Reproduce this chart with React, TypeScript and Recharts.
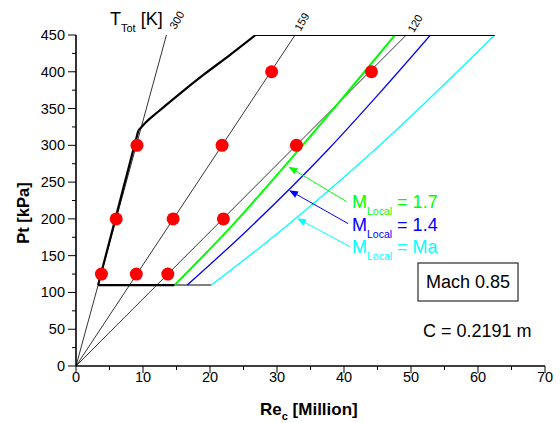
import React from "react";
import {
  ComposedChart,
  Line,
  Scatter,
  XAxis,
  YAxis,
  ReferenceLine,
} from "recharts";

// Total temperature lines (through origin)
const temp300 = [{ x: 0, y: 0 }, { x: 13.5, y: 450 }];
const temp159 = [{ x: 0, y: 0 }, { x: 32.7, y: 450 }];
const temp120 = [{ x: 0, y: 0 }, { x: 49.3, y: 450 }];

// Operating envelope (thick black), in pieces
const envelopeBottom = [{ x: 3.3, y: 110 }, { x: 14.7, y: 110 }];
const envelopeLeft = [{ x: 3.3, y: 110 }, { x: 9.3, y: 320 }];
const envelopeCurve = [
  { x: 9.3, y: 320 },
  { x: 10.3, y: 330 },
  { x: 12.3, y: 346 },
  { x: 15.2, y: 368 },
  { x: 19.2, y: 397 },
  { x: 23.0, y: 423 },
  { x: 26.8, y: 450 },
];
const envelopeTop = [{ x: 26.8, y: 450 }, { x: 62.5, y: 450 }];
const envelopeBase = [{ x: 14.7, y: 110 }, { x: 20.2, y: 110 }];

// Local Mach limits
const mLocal17 = [
  { x: 14.7, y: 110 },
  { x: 22.7, y: 185 },
  { x: 32.4, y: 285 },
  { x: 47.6, y: 450 },
];
const mLocal14 = [
  { x: 16.6, y: 110 },
  { x: 25.6, y: 185 },
  { x: 37.6, y: 294 },
  { x: 45.3, y: 371 },
  { x: 52.9, y: 450 },
];
const mLocalMa = [
  { x: 20.2, y: 110 },
  { x: 30.7, y: 185 },
  { x: 44.6, y: 294 },
  { x: 62.5, y: 450 },
];

// Test points
const testPoints = [
  { x: 3.8, y: 125 },
  { x: 9.0, y: 125 },
  { x: 13.7, y: 125 },
  { x: 6.0, y: 200 },
  { x: 14.5, y: 200 },
  { x: 22.0, y: 200 },
  { x: 9.1, y: 300 },
  { x: 21.8, y: 300 },
  { x: 32.9, y: 300 },
  { x: 29.2, y: 400 },
  { x: 44.1, y: 400 },
];

// Annotation arrows: [from, to]
const arrows = [
  { color: "#00ff00", from: { x: 40.4, y: 223.4 }, to: { x: 31.7, y: 271 } },
  { color: "#0000ff", from: { x: 40.6, y: 193.7 }, to: { x: 31.8, y: 239 } },
  { color: "#00ffff", from: { x: 40.9, y: 162.2 }, to: { x: 33.0, y: 200.8 } },
];

const xTicks = [0, 5, 10, 15, 20, 25, 30, 35, 40, 45, 50, 55, 60, 65, 70];
const yTicks = [
  0, 25, 50, 75, 100, 125, 150, 175, 200, 225, 250, 275, 300, 325, 350, 375,
  400, 425, 450,
];

const FONT = "'Liberation Sans', Arial, sans-serif";

function YTick(p: any) {
  const v = p.payload.value;
  const major = v % 50 === 0;
  return (
    <g>
      <line x1={p.x - (major ? 8 : 4)} x2={p.x} y1={p.y} y2={p.y} stroke="#000" strokeWidth={1} />
      {major && (
        <text x={p.x - 11} y={p.y} dy={5} textAnchor="end" fontSize={14.5} fontFamily={FONT} fill="#000">
          {v}
        </text>
      )}
    </g>
  );
}

function XTick(p: any) {
  const v = p.payload.value;
  const major = v % 10 === 0;
  return (
    <g>
      <line x1={p.x} x2={p.x} y1={p.y} y2={p.y + (major ? 7 : 4)} stroke="#000" strokeWidth={1} />
      {major && (
        <text x={p.x} y={p.y + 16} textAnchor="middle" fontSize={14.5} fontFamily={FONT} fill="#000">
          {v}
        </text>
      )}
    </g>
  );
}

function arrowShape(color: string) {
  return (props: any) => {
    const { x1, y1, x2, y2 } = props;
    const ang = Math.atan2(y2 - y1, x2 - x1);
    const len = 9;
    const half = 3.5;
    const bx = x2 - len * Math.cos(ang);
    const by = y2 - len * Math.sin(ang);
    const px = -Math.sin(ang) * half;
    const py = Math.cos(ang) * half;
    return (
      <g>
        <line x1={x1} y1={y1} x2={bx} y2={by} stroke={color} strokeWidth={1} />
        <polygon
          points={`${x2},${y2} ${bx + px},${by + py} ${bx - px},${by - py}`}
          fill={color}
        />
      </g>
    );
  };
}

function LocalLabel({ x, y, color, value }: { x: number; y: number; color: string; value: string }) {
  return (
    <text x={x} y={y} fontSize={18} fontFamily={FONT} fill={color}>
      <tspan>M</tspan>
      <tspan fontSize={10.5} dy={7}>Local</tspan>
      <tspan dy={-7}>{" = " + value}</tspan>
    </text>
  );
}

const thin = { stroke: "#000", strokeWidth: 0.8 };

export default function App() {
  return (
    <div style={{ position: "absolute", left: 0, top: 0, width: 560, height: 423, background: "#fff" }}>
      <ComposedChart
        width={560}
        height={423}
        margin={{ top: 35, right: 15, bottom: 17, left: 16 }}
      >
        <XAxis
          type="number"
          dataKey="x"
          domain={[0, 70]}
          ticks={xTicks}
          interval={0}
          height={40}
          tickSize={0}
          tickMargin={0}
          tickLine={false}
          tick={<XTick />}
          axisLine={{ stroke: "#000", strokeWidth: 1.6 }}
          allowDataOverflow
        />
        <YAxis
          type="number"
          dataKey="y"
          domain={[0, 450]}
          ticks={yTicks}
          interval={0}
          width={60}
          tickSize={0}
          tickMargin={0}
          tickLine={false}
          tick={<YTick />}
          axisLine={{ stroke: "#000", strokeWidth: 1.6 }}
          allowDataOverflow
        />
        <Line data={temp300} dataKey="y" {...thin} dot={false} isAnimationActive={false} />
        <Line data={temp159} dataKey="y" {...thin} dot={false} isAnimationActive={false} />
        <Line data={temp120} dataKey="y" {...thin} dot={false} isAnimationActive={false} />
        <Line data={envelopeBase} dataKey="y" stroke="#808080" strokeWidth={2} dot={false} isAnimationActive={false} />
        <Line data={mLocalMa} type="monotone" dataKey="y" stroke="#00ffff" strokeWidth={1.3} dot={false} isAnimationActive={false} />
        <Line data={mLocal14} type="monotone" dataKey="y" stroke="#0000ff" strokeWidth={1.3} dot={false} isAnimationActive={false} />
        <Line data={mLocal17} type="monotone" dataKey="y" stroke="#00ff00" strokeWidth={2} dot={false} isAnimationActive={false} />
        <Line data={envelopeBottom} dataKey="y" stroke="#000" strokeWidth={2.2} dot={false} isAnimationActive={false} />
        <Line data={envelopeLeft} dataKey="y" stroke="#000" strokeWidth={2.2} dot={false} isAnimationActive={false} />
        <Line data={envelopeCurve} type="monotone" dataKey="y" stroke="#000" strokeWidth={2.2} dot={false} isAnimationActive={false} />
        <Line data={envelopeTop} dataKey="y" stroke="#000" strokeWidth={2.2} dot={false} isAnimationActive={false} />
        <Scatter
          data={testPoints}
          fill="#ff0000"
          isAnimationActive={false}
          shape={(p: any) => <circle cx={p.cx} cy={p.cy} r={6.5} fill="#ff0000" />}
        />
        {arrows.map((a, i) => (
          <ReferenceLine
            key={i}
            segment={[a.from, a.to]}
            stroke={a.color}
            shape={arrowShape(a.color)}
            ifOverflow="visible"
          />
        ))}
      </ComposedChart>
      <svg
        width={560}
        height={423}
        style={{ position: "absolute", left: 0, top: 0, pointerEvents: "none" }}
      >
        {/* temperature title and labels */}
        <text x={110} y={25} fontSize={18} fontFamily={FONT} fill="#000">
          <tspan>T</tspan>
          <tspan fontSize={11} dy={7}>Tot</tspan>
          <tspan dy={-7}> [K]</tspan>
        </text>
        <text x={176.7} y={20} fontSize={11} fontFamily={FONT} fill="#000" textAnchor="middle" dominantBaseline="central" transform="rotate(-60 176.7 20)">300</text>
        <text x={301.7} y={21.7} fontSize={11} fontFamily={FONT} fill="#000" textAnchor="middle" dominantBaseline="central" transform="rotate(-60 301.7 21.7)">159</text>
        <text x={415} y={23.3} fontSize={11} fontFamily={FONT} fill="#000" textAnchor="middle" dominantBaseline="central" transform="rotate(-60 415 23.3)">120</text>

        <LocalLabel x={352} y={208} color="#00ff00" value="1.7" />
        <LocalLabel x={352} y={231} color="#0000ff" value="1.4" />
        <LocalLabel x={352} y={253} color="#00ffff" value="Ma" />

        <rect x={418} y={263} width={100} height={38} fill="none" stroke="#000" strokeWidth={1} />
        <text x={468} y={288} fontSize={18} fontFamily={FONT} fill="#000" textAnchor="middle">Mach 0.85</text>
        <text x={423} y={337} fontSize={18} fontFamily={FONT} fill="#000">C = 0.2191 m</text>

        {/* axis titles */}
        <text x={260} y={415} fontSize={17} fontWeight="bold" fontFamily={FONT} fill="#000">
          <tspan>Re</tspan>
          <tspan fontSize={11} dy={5}>c</tspan>
          <tspan dy={-5}> [Million]</tspan>
        </text>
        <text x={29} y={213} fontSize={16.5} fontWeight="bold" fontFamily={FONT} fill="#000" textAnchor="middle" transform="rotate(-90 29 213)">
          Pt [kPa]
        </text>
      </svg>
    </div>
  );
}
